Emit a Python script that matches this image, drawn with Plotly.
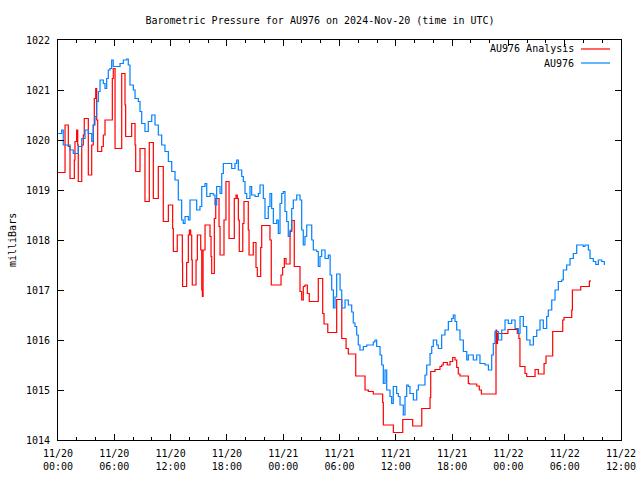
import pandas as pd
import plotly.graph_objects as go

# ---------------- data ----------------
START = "2024-11-20 00:00"

# AU976 observations (hours since 2024-11-20 00:00 UTC, millibars)
obs_hours = [0.03, 0.39, 0.56, 1.10, 1.28, 1.63, 1.99, 2.16, 2.53, 2.88, 3.23, 3.59, 3.76, 3.94,
             4.12, 4.30, 4.48, 4.83, 5.01, 5.19, 5.36, 5.54, 5.72, 5.89, 6.26, 6.61, 6.96, 7.32,
             7.49, 7.67, 8.03, 8.21, 8.56, 8.74, 8.92, 9.27, 9.62, 9.99, 10.34, 10.69, 11.05,
             11.40, 11.76, 12.12, 12.47, 12.82, 13.18, 13.35, 13.54, 13.89, 14.07, 14.42, 14.78,
             15.13, 15.32, 15.67, 15.85, 16.20, 16.55, 16.73, 16.91, 17.27, 17.45, 17.62, 18.15,
             18.51, 18.86, 19.04, 19.22, 19.58, 19.75, 19.93, 20.11, 20.46, 20.64, 21.00, 21.35,
             21.53, 21.71, 21.88, 22.06, 22.41, 22.59, 22.77, 22.95, 23.31, 23.48, 23.66, 23.84,
             24.01, 24.19, 24.37, 24.54, 24.73, 24.91, 25.08, 25.44, 25.79, 25.97, 26.14, 26.32,
             26.51, 26.86, 27.04, 27.21, 27.57, 27.74, 27.92, 28.10, 28.27, 28.46, 28.81, 29.00,
             29.17, 29.35, 29.52, 29.70, 29.88, 30.06, 30.24, 30.41, 30.59, 30.94, 31.30, 31.47,
             31.65, 31.83, 32.00, 32.18, 32.54, 32.90, 33.60, 33.78, 33.96, 34.32, 34.50, 34.67,
             34.85, 35.03, 35.38, 35.56, 35.73, 36.09, 36.27, 36.45, 36.80, 36.98, 37.16, 37.33,
             37.51, 37.87, 38.23, 38.40, 38.76, 39.11, 39.30, 39.65, 39.83, 40.00, 40.36, 40.53,
             40.89, 41.24, 41.60, 41.96, 42.13, 42.31, 42.49, 42.84, 43.20, 43.56, 43.73, 44.26,
             44.62, 44.97, 45.51, 45.87, 46.22, 46.39, 46.57, 46.93, 47.29, 47.64, 47.99, 48.35,
             48.71, 49.06, 49.24, 49.59, 49.95, 50.30, 50.66, 51.02, 51.37, 51.72, 52.08, 52.25,
             52.62, 52.97, 53.32, 53.68, 53.85, 54.21, 54.57, 54.92, 55.28, 55.63, 55.98, 56.16,
             56.52, 56.70, 57.05, 57.31, 57.58, 57.94, 58.22]
obs_mb = [1020.13, 1020.20, 1019.90, 1019.90, 1019.80, 1019.73, 1019.73, 1019.87, 1020.03,
          1020.20, 1020.13, 1019.97, 1020.30, 1020.47, 1020.77, 1020.97, 1021.20, 1021.13,
          1021.03, 1021.23, 1021.40, 1021.43, 1021.60, 1021.47, 1021.47, 1021.53, 1021.60,
          1021.62, 1021.50, 1021.10, 1021.00, 1020.83, 1020.77, 1020.57, 1020.33, 1020.17,
          1020.37, 1020.50, 1020.30, 1020.10, 1019.90, 1019.77, 1019.57, 1019.37, 1019.20,
          1018.80, 1018.40, 1018.33, 1018.47, 1018.40, 1018.80, 1018.80, 1018.60, 1018.67,
          1019.07, 1019.13, 1018.87, 1018.93, 1018.90, 1018.70, 1019.07, 1018.93, 1019.33,
          1019.53, 1019.53, 1019.43, 1019.53, 1019.60, 1019.40, 1019.27, 1019.17, 1018.93,
          1018.83, 1019.07, 1018.90, 1018.87, 1018.93, 1019.10, 1019.10, 1018.83, 1018.43,
          1018.67, 1018.93, 1018.63, 1018.33, 1018.40, 1018.13, 1018.73, 1018.93, 1018.97,
          1018.57, 1018.37, 1018.07, 1018.20, 1018.63, 1018.80, 1018.90, 1018.80, 1018.20,
          1017.90, 1018.07, 1018.30, 1018.30, 1018.00, 1017.80, 1017.77, 1017.47, 1017.67,
          1017.80, 1017.80, 1017.63, 1017.70, 1017.30, 1017.00, 1016.64, 1016.86, 1017.32,
          1017.32, 1017.00, 1016.64, 1016.64, 1016.80, 1016.70, 1016.56, 1016.34, 1016.27,
          1016.10, 1015.90, 1015.80, 1015.87, 1015.90, 1015.96, 1016.00, 1015.87, 1015.70,
          1015.50, 1015.13, 1015.40, 1015.00, 1014.87, 1014.73, 1015.07, 1014.93, 1014.87,
          1014.70, 1014.50, 1014.87, 1015.10, 1015.07, 1014.93, 1014.80, 1015.00, 1015.10,
          1015.10, 1015.30, 1015.50, 1015.73, 1015.87, 1016.00, 1015.90, 1015.83, 1016.10,
          1016.20, 1016.37, 1016.43, 1016.50, 1016.37, 1016.20, 1016.00, 1015.77, 1015.60,
          1015.70, 1015.60, 1015.70, 1015.53, 1015.50, 1015.40, 1015.70, 1015.93, 1016.17,
          1016.00, 1016.20, 1016.40, 1016.33, 1016.40, 1016.23, 1016.13, 1016.47, 1016.27,
          1016.00, 1015.90, 1016.07, 1016.20, 1016.40, 1016.23, 1016.47, 1016.60, 1016.80,
          1017.00, 1017.17, 1017.20, 1017.40, 1017.50, 1017.63, 1017.73, 1017.90, 1017.90,
          1017.87, 1017.90, 1017.80, 1017.63, 1017.57, 1017.51, 1017.60, 1017.57, 1017.50]

# AU976 Analysis (hours since start, millibars) - stepped series
ana_hours = [0.00, 0.75, 1.10, 1.28, 1.74, 1.81, 1.99, 2.10, 2.16, 2.53, 2.70, 2.80, 3.23, 3.59,
             3.76, 3.87, 4.02, 4.12, 4.23, 4.66, 4.83, 5.01, 5.79, 5.89, 6.08, 6.79, 7.14, 7.21,
             7.85, 8.21, 8.28, 8.74, 9.27, 9.73, 10.16, 10.69, 11.22, 11.76, 12.22, 12.29, 12.71,
             13.25, 13.28, 13.71, 13.89, 14.00, 14.14, 14.25, 14.31, 14.71, 14.85, 15.21, 15.32,
             15.39, 15.46, 15.67, 16.20, 16.31, 16.38, 16.66, 16.81, 17.16, 17.27, 17.69, 17.90,
             18.23, 18.79, 18.97, 19.11, 19.22, 19.32, 19.69, 19.82, 20.28, 20.36, 20.81, 21.10,
             21.24, 21.60, 21.71, 22.59, 22.73, 23.77, 23.94, 24.12, 24.30, 24.73, 24.91, 25.18,
             25.79, 25.97, 26.14, 26.32, 26.57, 26.78, 27.74, 28.21, 28.35, 28.75, 29.70, 30.24,
             30.70, 30.94, 31.73, 32.72, 33.07, 33.60, 34.60, 34.67, 35.74, 36.74, 37.80, 38.77,
             39.65, 39.72, 40.18, 40.71, 40.89, 41.06, 41.49, 41.78, 42.06, 42.31, 42.49, 42.66,
             42.84, 43.73, 43.84, 44.63, 44.90, 45.12, 46.68, 46.75, 46.84, 47.95, 48.95, 49.12,
             49.23, 49.77, 49.95, 50.84, 51.19, 51.80, 52.01, 52.72, 53.79, 53.93, 54.75, 54.82,
             55.71, 56.63, 56.70]
ana_mb = [1019.35, 1020.30, 1019.87, 1019.23, 1019.60, 1019.97, 1020.20, 1019.90, 1019.17,
          1019.90, 1020.10, 1020.43, 1019.30, 1019.90, 1020.30, 1020.83, 1021.03, 1020.40,
          1019.77, 1019.87, 1020.10, 1020.40, 1021.23, 1021.43, 1019.83, 1021.33, 1020.70,
          1020.07, 1020.33, 1019.90, 1019.37, 1019.83, 1018.77, 1019.95, 1018.83, 1019.47,
          1018.37, 1018.70, 1018.23, 1017.77, 1018.10, 1017.55, 1017.07, 1017.55, 1018.10,
          1018.20, 1018.10, 1017.60, 1017.10, 1017.60, 1018.10, 1017.80, 1017.00, 1016.87,
          1017.80, 1018.30, 1018.07, 1017.67, 1017.33, 1018.43, 1018.83, 1018.27, 1017.70,
          1018.40, 1019.17, 1018.03, 1018.83, 1018.90, 1018.83, 1018.40, 1017.77, 1018.33,
          1018.77, 1018.20, 1017.70, 1017.95, 1017.45, 1017.27, 1017.85, 1018.29, 1018.00,
          1017.10, 1017.30, 1017.45, 1017.63, 1017.52, 1018.17, 1018.39, 1017.47, 1016.97,
          1016.80, 1017.07, 1017.10, 1016.93, 1016.77, 1017.23, 1016.53, 1016.32, 1016.15,
          1016.81, 1016.03, 1015.83, 1015.72, 1015.28, 1015.00, 1014.97, 1014.92, 1014.75,
          1014.30, 1014.15, 1014.41, 1014.28, 1014.63, 1014.85, 1015.37, 1015.41, 1015.47,
          1015.50, 1015.55, 1015.50, 1015.57, 1015.65, 1015.60, 1015.45, 1015.32, 1015.28,
          1015.13, 1015.12, 1015.08, 1015.00, 1014.92, 1016.20, 1015.93, 1016.13, 1016.21,
          1016.13, 1016.03, 1015.47, 1015.33, 1015.27, 1015.41, 1015.32, 1015.53, 1015.68,
          1016.17, 1016.40, 1016.45, 1016.60, 1017.00, 1017.07, 1017.17, 1017.20]

y_ticks = [1014, 1015, 1016, 1017, 1018, 1019, 1020, 1021, 1022]
x_range = ["2024-11-20 00:00", "2024-11-22 12:00"]

TITLE = "Barometric Pressure for AU976 on 2024-Nov-20 (time in UTC)"
YLABEL = "milliBars"
NAME_ANA = "AU976 Analysis"
NAME_OBS = "AU976"
RED = "#ff0000"
BLUE = "#0080ff"
FONT = "DejaVu Sans Mono"

# ---------------- figure ----------------
t0 = pd.Timestamp(START)
obs_x = t0 + pd.to_timedelta(obs_hours, unit="h")
ana_x = t0 + pd.to_timedelta(ana_hours, unit="h")

fig = go.Figure()
fig.add_trace(go.Scatter(x=ana_x, y=ana_mb, mode="lines", name=NAME_ANA,
                         line=dict(color=RED, width=1.2, shape="hv"), showlegend=False))
fig.add_trace(go.Scatter(x=obs_x, y=obs_mb, mode="lines", name=NAME_OBS,
                         line=dict(color=BLUE, width=1.2, shape="hv"), showlegend=False))

W, H = 640, 480
L, R, T, B = 58, 19, 40, 40
pw = W - L - R
ph = H - T - B

fig.update_layout(
    width=W, height=H,
    margin=dict(l=L, r=R, t=T, b=B, autoexpand=False),
    paper_bgcolor="white", plot_bgcolor="white",
    font=dict(family=FONT, size=10, color="black"),
    title=dict(text=TITLE, x=0.5, xanchor="center", y=1 - 20 / H, yanchor="middle",
               automargin=False, font=dict(family=FONT, size=10, color="black")),
    showlegend=False,
)
fig.update_xaxes(
    type="date", range=x_range, showgrid=False, zeroline=False, automargin=False,
    showline=True, linecolor="black", linewidth=1, mirror="allticks",
    ticks="inside", ticklen=6, tickcolor="black", tickwidth=1,
    dtick=6 * 3600 * 1000, tick0="2024-11-20 00:00", tickformat="%m/%d<br>%H:%M",
    ticklabelstandoff=4,
    minor=dict(dtick=2 * 3600 * 1000, ticks="inside", ticklen=3, tickcolor="black", showgrid=False),
)
fig.update_yaxes(
    range=[1014, 1022], tickvals=y_ticks, showgrid=False, zeroline=False, automargin=False,
    showline=True, linecolor="black", linewidth=1, mirror="allticks",
    ticks="inside", ticklen=6, tickcolor="black", tickwidth=1, ticklabelstandoff=5,
)

# y-axis label
fig.add_annotation(text=YLABEL, xref="paper", yref="paper", x=(12 - L) / pw, y=0.5,
                   textangle=-90, showarrow=False, xanchor="center", yanchor="middle",
                   font=dict(family=FONT, size=10))

# gnuplot-style legend (text on the left, sample line on the right)
leg = [(NAME_ANA, RED, 49), (NAME_OBS, BLUE, 63)]
for name, col, ypx in leg:
    yp = 1 - (ypx - T) / ph
    fig.add_annotation(text=name, xref="paper", yref="paper", x=(576 - L) / pw, y=yp,
                       xanchor="right", yanchor="middle", showarrow=False,
                       font=dict(family=FONT, size=10))
    fig.add_shape(type="line", xref="paper", yref="paper",
                  x0=(581 - L) / pw, x1=(610 - L) / pw, y0=yp, y1=yp,
                  line=dict(color=col, width=1.2))

fig.write_html("out.html", config={"displayModeBar": False, "staticPlot": True},
               post_script="document.body.style.margin='0px';")
